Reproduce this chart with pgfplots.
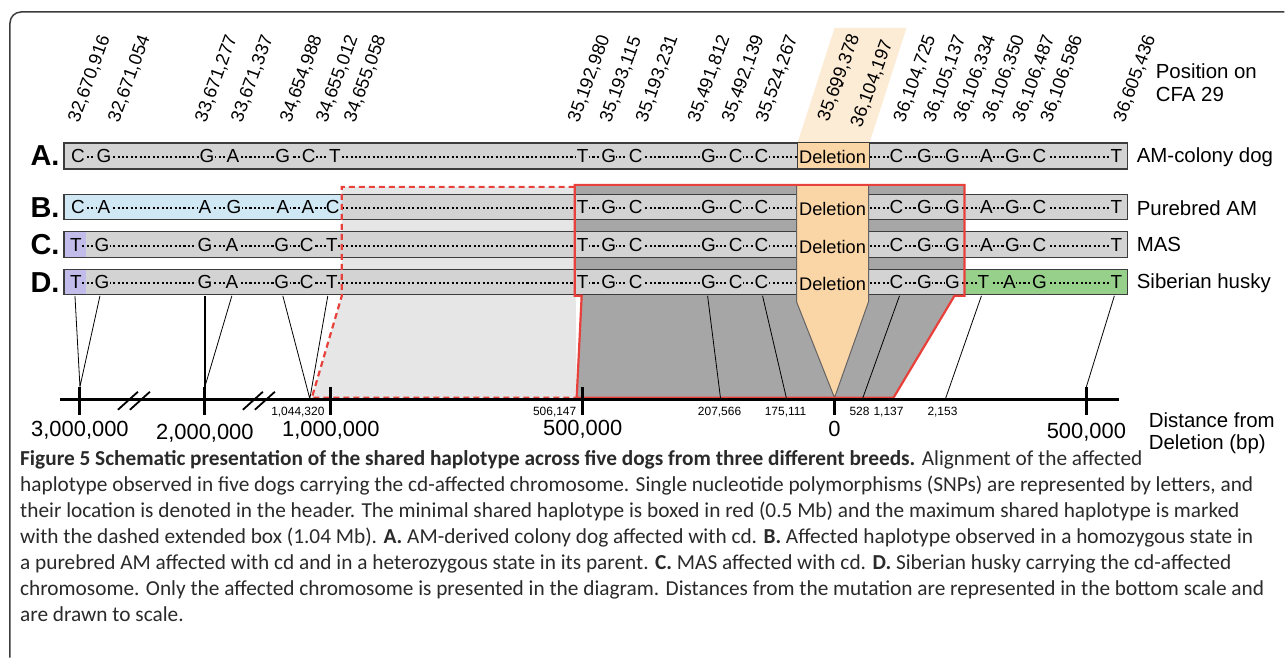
\documentclass[border=0pt]{standalone}
\usepackage{pgfplots}
\pgfplotsset{compat=1.18}
\usepackage{fontspec}
\setmainfont{Liberation Sans}
\newfontfamily\capfont{Carlito}
\definecolor{rowgray}{HTML}{D3D3D3}
\definecolor{darkreg}{HTML}{A6A6A6}
\definecolor{lightreg}{HTML}{E6E6E6}
\definecolor{delor}{HTML}{FAD5A6}
\definecolor{peach}{HTML}{FCEBD5}
\definecolor{blu}{HTML}{D0E8F4}
\definecolor{purp}{HTML}{C2BCEB}
\definecolor{grn}{HTML}{97D08B}
\definecolor{redl}{HTML}{E8403A}
\definecolor{framec}{HTML}{3C3C3C}
\definecolor{capc}{HTML}{2A2A2A}
\newcommand{\dfont}{\fontsize{19}{21}\selectfont}
\newcommand{\hfont}{\fontsize{18.3}{20}\selectfont}
\newcommand{\lfont}{\fontsize{20.5}{22}\selectfont}
\begin{document}
\begin{tikzpicture}
\begin{axis}[width=1285bp,height=658bp,scale only axis,
  xmin=0,xmax=1285,ymin=0,ymax=658,y dir=reverse,hide axis,clip=false]
% background
\addplot[fill=white,draw=none] coordinates {(0,0)(1285,0)(1285,658)(0,658)} -- cycle;
% frame
\addplot[draw=framec,line width=1.5bp,rounded corners=11bp] coordinates {(1285,12)(10,12)(10,658)};
% header peach parallelogram
\addplot[fill=peach,draw=none] coordinates {(798,143)(870,143)(907,28)(835,28)} -- cycle;
% light region (max shared)
\addplot[fill=lightreg,draw=none] coordinates {(342,187)(575,187)(577,398)(312,398)(342,296)} -- cycle;
% dark region (min shared)
\addplot[fill=darkreg,draw=none] coordinates {(575,185)(965,185)(965,296)(955,296)(894,398)(577,398)(582,296)(575,296)} -- cycle;
% row boxes
\addplot[fill=rowgray,draw=framec,line width=1.2bp] coordinates {(64,143)(1128,143)(1128,169)(64,169)} -- cycle;
\addplot[fill=rowgray,draw=none] coordinates {(64,195)(1128,195)(1128,220)(64,220)} -- cycle;
\addplot[fill=blu,draw=none] coordinates {(64,195)(342,195)(342,220)(64,220)} -- cycle;
\addplot[draw=framec,line width=1.2bp] coordinates {(64,195)(1128,195)(1128,220)(64,220)} -- cycle;
\addplot[fill=rowgray,draw=none] coordinates {(64,232)(1128,232)(1128,258)(64,258)} -- cycle;
\addplot[fill=purp,draw=none] coordinates {(64,232)(86,232)(86,258)(64,258)} -- cycle;
\addplot[draw=framec,line width=1.2bp] coordinates {(64,232)(1128,232)(1128,258)(64,258)} -- cycle;
\addplot[fill=rowgray,draw=none] coordinates {(64,270)(1128,270)(1128,295)(64,295)} -- cycle;
\addplot[fill=purp,draw=none] coordinates {(64,270)(86,270)(86,295)(64,295)} -- cycle;
\addplot[fill=grn,draw=none] coordinates {(965,270)(1128,270)(1128,295)(965,295)} -- cycle;
\addplot[draw=framec,line width=1.2bp] coordinates {(64,270)(1128,270)(1128,295)(64,295)} -- cycle;
% dotted connections
\addplot[black,line width=2.1bp,dash pattern=on 2.1bp off 2.3bp] coordinates {(78,157.5)(1117,157.5)};
\addplot[black,line width=2.1bp,dash pattern=on 2.1bp off 2.3bp] coordinates {(78,208.5)(1117,208.5)};
\addplot[black,line width=2.1bp,dash pattern=on 2.1bp off 2.3bp] coordinates {(78,246)(1117,246)};
\addplot[black,line width=2.1bp,dash pattern=on 2.1bp off 2.3bp] coordinates {(78,283.5)(1117,283.5)};
% SNP letters on gray
\addplot[only marks,mark=none,point meta=explicit symbolic,nodes near coords,
  nodes near coords style={anchor=center,font=\dfont,fill=rowgray,inner sep=0.4bp,text=black}]
  table[meta=l,row sep=\\]{x y l\\
  78 156 C\\ 104 156 G\\ 207 156 G\\ 233 156 A\\ 283 156 G\\ 309 156 C\\ 335 156 T\\
  583 156 T\\ 609 156 G\\ 636 156 C\\ 709 156 G\\ 736 156 C\\ 762 156 C\\
  897 156 C\\ 925 156 G\\ 953 156 G\\ 987 156 A\\ 1013 156 G\\ 1040 156 C\\ 1117 156 T\\
  583 207.5 T\\ 609 207.5 G\\ 636 207.5 C\\ 709 207.5 G\\ 736 207.5 C\\ 762 207.5 C\\
  897 207.5 C\\ 925 207.5 G\\ 953 207.5 G\\ 987 207.5 A\\ 1013 207.5 G\\ 1040 207.5 C\\ 1117 207.5 T\\
  102 245 G\\ 205 245 G\\ 232 245 A\\ 282 245 G\\ 307 245 C\\ 332 245 T\\
  583 245 T\\ 609 245 G\\ 636 245 C\\ 709 245 G\\ 736 245 C\\ 762 245 C\\
  897 245 C\\ 925 245 G\\ 953 245 G\\ 987 245 A\\ 1013 245 G\\ 1040 245 C\\ 1117 245 T\\
  102 282.5 G\\ 205 282.5 G\\ 232 282.5 A\\ 282 282.5 G\\ 307 282.5 C\\ 332 282.5 T\\
  583 282.5 T\\ 609 282.5 G\\ 636 282.5 C\\ 709 282.5 G\\ 736 282.5 C\\ 762 282.5 C\\
  897 282.5 C\\ 925 282.5 G\\ 953 282.5 G\\
  };
% SNP letters on blue
\addplot[only marks,mark=none,point meta=explicit symbolic,nodes near coords,
  nodes near coords style={anchor=center,font=\dfont,fill=blu,inner sep=0.4bp,text=black}]
  table[meta=l,row sep=\\]{x y l\\
  78 207.5 C\\ 104 207.5 A\\ 205 207.5 A\\ 234 207.5 G\\ 283 207.5 A\\ 308 207.5 A\\ 333 207.5 C\\
  };
% SNP letters on purple
\addplot[only marks,mark=none,point meta=explicit symbolic,nodes near coords,
  nodes near coords style={anchor=center,font=\dfont,fill=purp,inner sep=0.4bp,text=black}]
  table[meta=l,row sep=\\]{x y l\\
  76 245 T\\ 76 282.5 T\\
  };
% SNP letters on green
\addplot[only marks,mark=none,point meta=explicit symbolic,nodes near coords,
  nodes near coords style={anchor=center,font=\dfont,fill=grn,inner sep=0.4bp,text=black}]
  table[meta=l,row sep=\\]{x y l\\
  984 282.5 T\\ 1010 282.5 A\\ 1040 282.5 G\\ 1117 282.5 T\\
  };
% deletion (row A)
\addplot[fill=delor,draw=framec,line width=1bp] coordinates {(798,143)(870,143)(870,169)(798,169)} -- cycle;
% deletion arrow (rows B-D)
\addplot[fill=delor,draw=framec!80,line width=1bp] coordinates {(797,185)(869,185)(869,302)(835,398)(797,302)} -- cycle;
\node[font=\hfont] at (axis cs:833,157) {Deletion};
\node[font=\hfont] at (axis cs:833,209) {Deletion};
\node[font=\hfont] at (axis cs:833,247) {Deletion};
\node[font=\hfont] at (axis cs:833,284) {Deletion};
% red boxes
\addplot[draw=redl,line width=2.2bp,dash pattern=on 6bp off 4bp] coordinates {(575,187)(342,187)(342,296)(312,398)(577,398)};
\addplot[draw=redl,line width=2.2bp] coordinates {(575,185)(965,185)(965,296)(955,296)(894,398)(577,398)(582,296)(575,296)} -- cycle;
% connector lines
\addplot[black,line width=0.8bp] coordinates {(75,296)(80,387)(100,296)};
\addplot[black,line width=0.8bp] coordinates {(232,296)(205,387)};
\addplot[black,line width=1.4bp] coordinates {(205,296)(205,390)};
\addplot[black,line width=0.8bp] coordinates {(283,296)(310,399)(328,296)};
\addplot[black,line width=0.8bp] coordinates {(708,296)(721,399)};
\addplot[black,line width=0.8bp] coordinates {(763,296)(787,399)};
\addplot[black,line width=0.8bp] coordinates {(900,296)(863,399)};
\addplot[black,line width=0.8bp] coordinates {(982,296)(946,399)};
\addplot[black,line width=0.8bp] coordinates {(1115,296)(1087,387)};
% distance scale
\addplot[black,line width=3bp] coordinates {(60,399.5)(1120,399.5)};
\addplot[black,line width=3bp] coordinates {(80,387)(80,415)};
\addplot[black,line width=3bp] coordinates {(205,387)(205,415)};
\addplot[black,line width=3bp] coordinates {(331,387)(331,415)};
\addplot[black,line width=3bp] coordinates {(583,387)(583,415)};
\addplot[black,line width=3bp] coordinates {(835,398)(835,415)};
\addplot[black,line width=3bp] coordinates {(1087,387)(1087,415)};
\addplot[black,line width=1.8bp] coordinates {(118,410)(138,392)};
\addplot[black,line width=1.8bp] coordinates {(130,410)(150,392)};
\addplot[black,line width=1.8bp] coordinates {(243,410)(263,392)};
\addplot[black,line width=1.8bp] coordinates {(255,410)(275,392)};
% header positions
\addplot[only marks,mark=none,point meta=explicit symbolic,nodes near coords,
  nodes near coords style={anchor=west,rotate=70,font=\hfont,inner sep=0pt,text=black}]
  table[meta=l,row sep=\\]{x y l\\
  74 122 32,670,916\\ 114 122 32,671,054\\ 201 122 33,671,277\\ 237 122 33,671,337\\
  286 122 34,654,988\\ 322 122 34,655,012\\ 350 122 34,655,058\\
  574 122 35,192,980\\ 606 122 35,193,115\\ 642 122 35,193,231\\
  694 122 35,491,812\\ 728 122 35,492,139\\ 762 122 35,524,267\\
  824 121 35,699,378\\ 857 127 36,104,197\\
  900 122 36,104,725\\ 930 122 36,105,137\\ 960 122 36,106,334\\ 989 122 36,106,350\\
  1019 122 36,106,487\\ 1047 122 36,106,586\\ 1120 122 36,605,436\\
  };
\node[font=\hfont,rotate=70] at (axis cs:845,86) {-};
\node[font=\lfont,anchor=west] at (axis cs:1153,71) {Position on};
\node[font=\lfont,anchor=west] at (axis cs:1153,95) {CFA 29};
% row labels
\node[font=\fontsize{29}{30}\selectfont\bfseries] at (axis cs:45,156) {A.};
\node[font=\fontsize{29}{30}\selectfont\bfseries] at (axis cs:45,208) {B.};
\node[font=\fontsize{29}{30}\selectfont\bfseries] at (axis cs:45,245) {C.};
\node[font=\fontsize{29}{30}\selectfont\bfseries] at (axis cs:45,283) {D.};
\node[font=\lfont,anchor=west] at (axis cs:1134,157) {AM-colony dog};
\node[font=\lfont,anchor=west] at (axis cs:1134,208) {Purebred AM};
\node[font=\lfont,anchor=west] at (axis cs:1134,245) {MAS};
\node[font=\lfont,anchor=west] at (axis cs:1134,283) {Siberian husky};
% scale labels
\node[font=\fontsize{22}{24}\selectfont] at (axis cs:80,430) {3,000,000};
\node[font=\fontsize{22}{24}\selectfont] at (axis cs:205,434) {2,000,000};
\node[font=\fontsize{22}{24}\selectfont] at (axis cs:331,430) {1,000,000};
\node[font=\fontsize{22}{24}\selectfont] at (axis cs:583,429) {500,000};
\node[font=\fontsize{22}{24}\selectfont] at (axis cs:835,429) {0};
\node[font=\fontsize{22}{24}\selectfont] at (axis cs:1087,433) {500,000};
\node[font=\fontsize{12}{13}\selectfont] at (axis cs:298,412) {1,044,320};
\node[font=\fontsize{12}{13}\selectfont] at (axis cs:555,412) {506,147};
\node[font=\fontsize{12}{13}\selectfont] at (axis cs:720,412) {207,566};
\node[font=\fontsize{12}{13}\selectfont] at (axis cs:786,412) {175,111};
\node[font=\fontsize{12}{13}\selectfont] at (axis cs:860,412) {528};
\node[font=\fontsize{12}{13}\selectfont] at (axis cs:889,412) {1,137};
\node[font=\fontsize{12}{13}\selectfont] at (axis cs:943,412) {2,153};
\node[font=\lfont,anchor=west] at (axis cs:1146,420) {Distance from};
\node[font=\lfont,anchor=west] at (axis cs:1146,444) {Deletion (bp)};
% caption
\begin{scope}[every node/.style={anchor=base west,inner sep=0pt,text=capc,font=\capfont\fontsize{21.4}{24}\selectfont}]
\node at (axis cs:20,466) {\textbf{Figure 5 Schematic presentation of the shared haplotype across five dogs from three different breeds.} Alignment of the affected};
\node at (axis cs:20,492) {haplotype observed in five dogs carrying the cd-affected chromosome. Single nucleotide polymorphisms (SNPs) are represented by letters, and};
\node at (axis cs:20,518) {their location is denoted in the header. The minimal shared haplotype is boxed in red (0.5 Mb) and the maximum shared haplotype is marked};
\node at (axis cs:20,544) {with the dashed extended box (1.04 Mb). \textbf{A.} AM-derived colony dog affected with cd. \textbf{B.} Affected haplotype observed in a homozygous state in};
\node at (axis cs:20,570) {a purebred AM affected with cd and in a heterozygous state in its parent. \textbf{C.} MAS affected with cd. \textbf{D.} Siberian husky carrying the cd-affected};
\node at (axis cs:20,596) {chromosome. Only the affected chromosome is presented in the diagram. Distances from the mutation are represented in the bottom scale and};
\node at (axis cs:20,622) {are drawn to scale.};
\end{scope}
\end{axis}
\end{tikzpicture}
\end{document}
